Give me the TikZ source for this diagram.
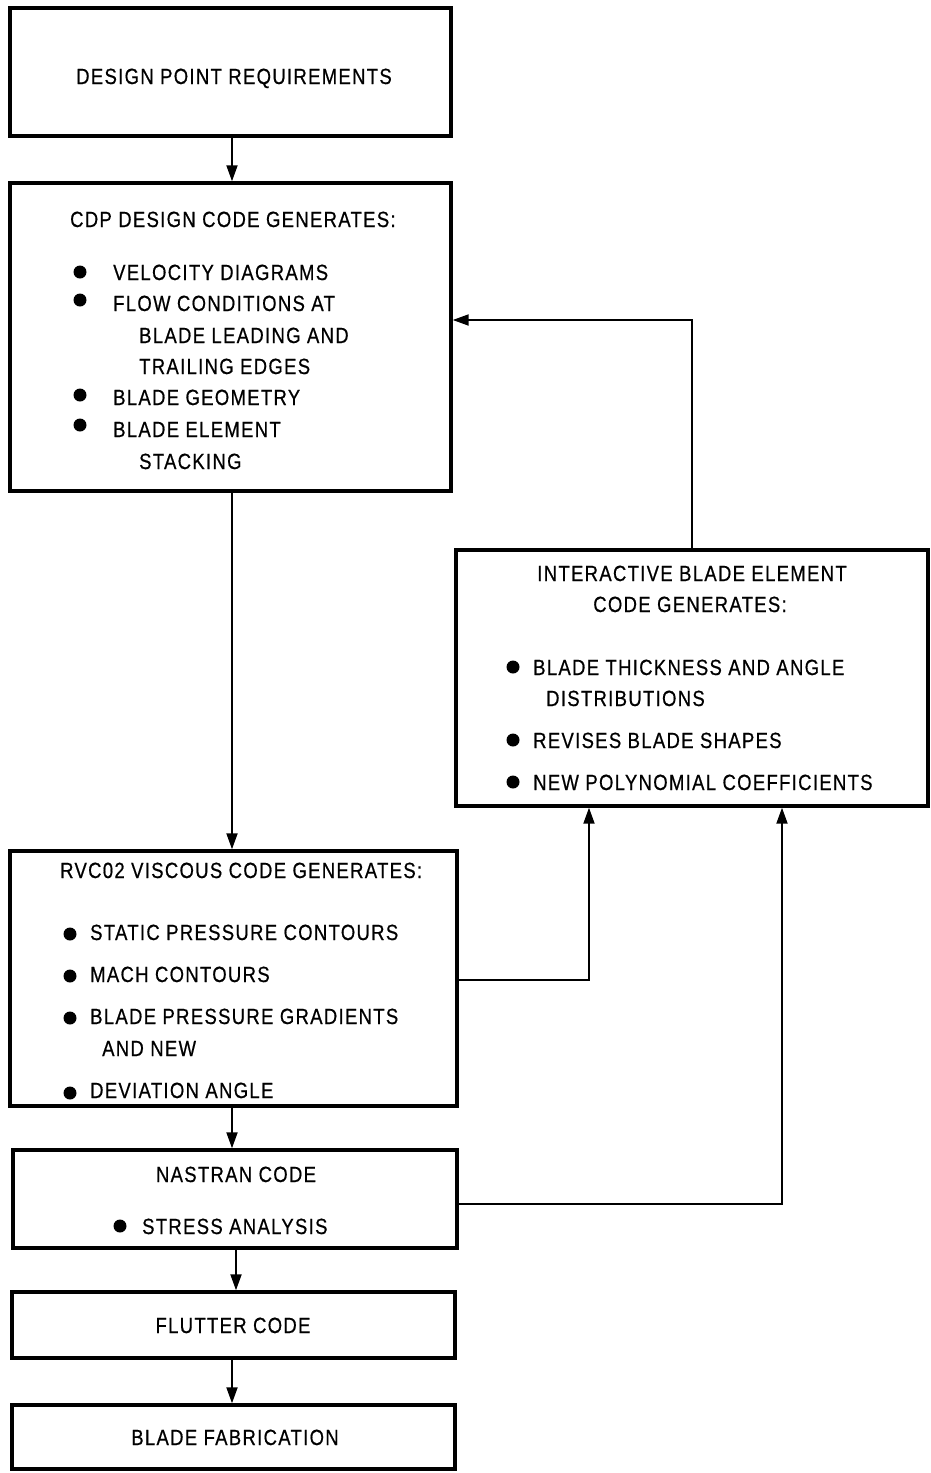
\documentclass[tikz,border=0pt]{standalone}
\usepackage{fontspec}
\setmainfont[FakeStretch=0.84,LetterSpace=6,FakeBold=0.6]{Liberation Sans}
\usetikzlibrary{arrows.meta}
\begin{document}
\begin{tikzpicture}[x=1pt,y=-1pt,
  box/.style={draw,line width=3.4pt,inner sep=0pt},
  txt/.style={inner sep=0pt,text height=16pt,text depth=0pt,font=\fontsize{22}{26}\selectfont},
  arr/.style={line width=1.9pt,-{Triangle[length=16pt,width=11pt]}},
  bul/.style={fill=black}]
\useasboundingbox (0,0) rectangle (931,1473);
% boxes
\node[box,minimum width=441pt,minimum height=128pt] (dpr) at (230.5,72) {};
\node[box,minimum width=441pt,minimum height=308pt] (cdp) at (230.5,337) {};
\node[box,minimum width=472pt,minimum height=256pt] (ibe) at (692,678) {};
\node[box,minimum width=447pt,minimum height=255pt] (rvc) at (233.5,978.5) {};
\node[box,minimum width=444pt,minimum height=98pt] (nas) at (235,1199) {};
\node[box,minimum width=443pt,minimum height=66pt] (flu) at (233.5,1325) {};
\node[box,minimum width=443pt,minimum height=64pt] (fab) at (233.5,1437) {};
% texts
\node[txt] (t1) at (234,76) {DESIGN POINT REQUIREMENTS};
\node[txt,anchor=west] (t2) at (70,219) {CDP DESIGN CODE GENERATES:};
\node[txt,anchor=west] (t3) at (113,272) {VELOCITY DIAGRAMS};
\node[txt,anchor=west] (t4) at (113,303) {FLOW CONDITIONS AT};
\node[txt,anchor=west] (t5) at (139,335) {BLADE LEADING AND};
\node[txt,anchor=west] (t6) at (139,366) {TRAILING EDGES};
\node[txt,anchor=west] (t7) at (113,397) {BLADE GEOMETRY};
\node[txt,anchor=west] (t8) at (113,429) {BLADE ELEMENT};
\node[txt,anchor=west] (t9) at (139,461) {STACKING};
\fill[bul] (80,272) circle (6.5pt) (80,300) circle (6.5pt) (80,395) circle (6.5pt) (80,425) circle (6.5pt);
\node[txt] (i1) at (692,573) {INTERACTIVE BLADE ELEMENT};
\node[txt] (i2) at (690,604) {CODE GENERATES:};
\node[txt,anchor=west] (i3) at (533,667) {BLADE THICKNESS AND ANGLE};
\node[txt,anchor=west] (i4) at (546,698) {DISTRIBUTIONS};
\node[txt,anchor=west] (i5) at (533,740) {REVISES BLADE SHAPES};
\node[txt,anchor=west] (i6) at (533,782) {NEW POLYNOMIAL COEFFICIENTS};
\fill[bul] (513,667) circle (6.5pt) (513,740) circle (6.5pt) (513,782) circle (6.5pt);
\node[txt,anchor=west] (r1) at (60,870) {RVC02 VISCOUS CODE GENERATES:};
\node[txt,anchor=west] (r2) at (90,932) {STATIC PRESSURE CONTOURS};
\node[txt,anchor=west] (r3) at (90,974) {MACH CONTOURS};
\node[txt,anchor=west] (r4) at (90,1016) {BLADE PRESSURE GRADIENTS};
\node[txt,anchor=west] (r5) at (102,1048) {AND NEW};
\node[txt,anchor=west] (r6) at (90,1090) {DEVIATION ANGLE};
\fill[bul] (70,934) circle (6.5pt) (70,976) circle (6.5pt) (70,1018) circle (6.5pt) (70,1093) circle (6.5pt);
\node[txt] (n1) at (236,1174) {NASTRAN CODE};
\node[txt,anchor=west] (n2) at (142,1226) {STRESS ANALYSIS};
\fill[bul] (120,1226) circle (6.5pt);
\node[txt] (f1) at (233,1325) {FLUTTER CODE};
\node[txt] (b1) at (235,1437) {BLADE FABRICATION};
% connectors
\coordinate (c1) at (232,0);
\coordinate (c2) at (0,320);
\coordinate (c3) at (0,980);
\coordinate (c4) at (589,0);
\coordinate (c5) at (0,1204);
\coordinate (c6) at (782,0);
\coordinate (c7) at (236,0);
\draw[arr] (dpr.south -| c1) -- (cdp.north -| c1);
\draw[arr] (cdp.south -| c1) -- (rvc.north -| c1);
\draw[arr] (rvc.south -| c1) -- (nas.north -| c1);
\draw[arr] (nas.south -| c7) -- (flu.north -| c7);
\draw[arr] (flu.south -| c1) -- (fab.north -| c1);
\draw[arr] (ibe.north) |- (cdp.east |- c2);
\draw[arr] (rvc.east |- c3) -| (ibe.south -| c4);
\draw[arr] (nas.east |- c5) -| (ibe.south -| c6);
\end{tikzpicture}
\end{document}
